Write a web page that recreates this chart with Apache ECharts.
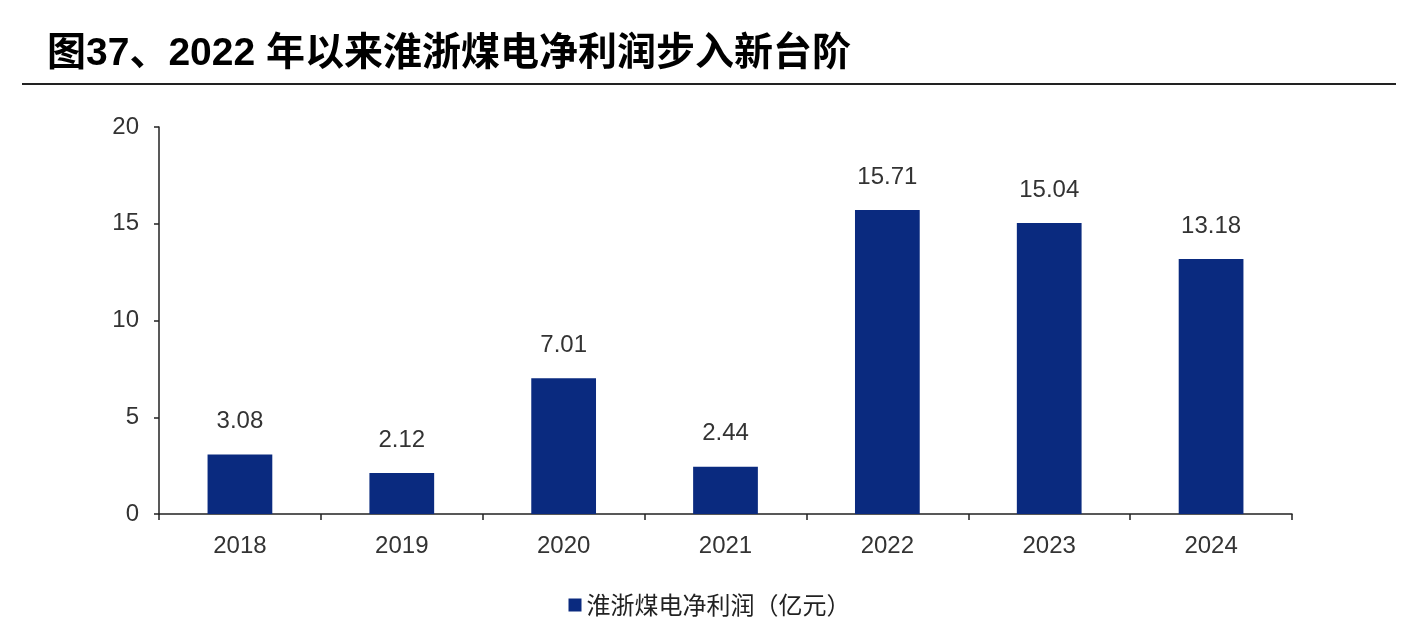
<!DOCTYPE html>
<html>
<head>
<meta charset="utf-8">
<script src="https://cdn.jsdelivr.net/npm/echarts@6/dist/echarts.min.js"></script>
<style>html,body{margin:0;padding:0;background:#fff;}#c{width:1419px;height:636px;}</style>
</head>
<body>
<div id="c"></div>
<script>
const categories = ['2018','2019','2020','2021','2022','2023','2024'];
const profit = [3.08, 2.12, 7.01, 2.44, 15.71, 15.04, 13.18];
const seriesName = '淮浙煤电净利润（亿元）';
const titleText = '图37、2022 年以来淮浙煤电净利润步入新台阶';

const chart = echarts.init(document.getElementById('c'));
chart.setOption({
  animation: false,
  backgroundColor: '#fff',
  title: {
    text: titleText,
    left: 42, top: 30,
    textStyle: {fontFamily: "'Liberation Sans', 'Noto Sans CJK SC'", fontWeight: 'bold', fontSize: 39, color: '#000'}
  },
  graphic: [{
    type: 'line', shape: {x1: 22, y1: 84, x2: 1396, y2: 84},
    style: {stroke: '#222', lineWidth: 2}
  }],
  legend: {
    bottom: 14, left: 'center',
    itemWidth: 13, itemHeight: 13, itemGap: 8,
    icon: 'rect',
    textStyle: {fontFamily: 'Noto Sans CJK SC', fontSize: 24, color: '#222'},
    data: [seriesName]
  },
  grid: {left: 159, right: 127, top: 127, bottom: 122, containLabel: false},
  xAxis: {
    type: 'category', data: categories,
    axisLine: {lineStyle: {color: '#222', width: 1.5}},
    axisTick: {show: true, alignWithLabel: false, length: 6, lineStyle: {color: '#222', width: 1.5}},
    axisLabel: {fontFamily: 'Liberation Sans', fontSize: 24, color: '#333', margin: 20}
  },
  yAxis: {
    type: 'value', min: 0, max: 20, interval: 5,
    splitLine: {show: false},
    axisLine: {show: true, lineStyle: {color: '#222', width: 1.5}},
    axisTick: {show: true, length: 5, lineStyle: {color: '#222', width: 1.5}},
    axisLabel: {fontFamily: 'Liberation Sans', fontSize: 24, color: '#333', margin: 20}
  },
  series: [{
    name: seriesName, type: 'bar', data: profit,
    barWidth: '40%',
    itemStyle: {color: '#0a2a7f'},
    label: {show: true, position: 'top', distance: 21, fontFamily: 'Liberation Sans', fontSize: 24, color: '#333',
      formatter: p => p.value.toFixed(2)}
  }]
});
</script>
</body>
</html>
